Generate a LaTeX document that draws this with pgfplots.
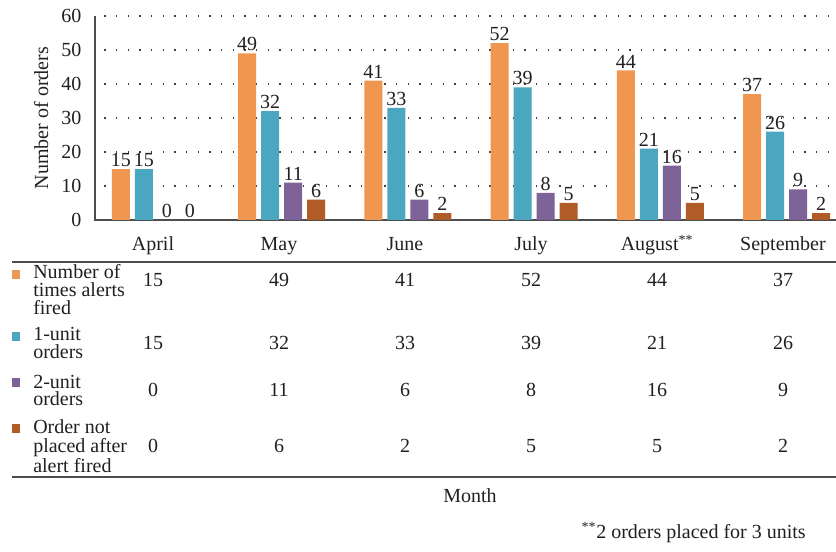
\documentclass[border=0pt]{standalone}
\usepackage{pgfplots}
\pgfplotsset{compat=1.18}
\usepackage{fontspec}
\setmainfont{Liberation Serif}
\definecolor{cOr}{HTML}{EF9650}
\definecolor{cTe}{HTML}{4BA6BF}
\definecolor{cPu}{HTML}{7E6399}
\definecolor{cBr}{HTML}{B15C27}
\definecolor{txt}{HTML}{231F20}
\definecolor{axc}{HTML}{4D4D4D}
\begin{document}
\fontsize{15}{13.5}\selectfont
\begin{tikzpicture}[every node/.append style={text=txt}]
\useasboundingbox (0,0) rectangle (627pt,-414pt);
\begin{axis}[
  at={(71.25pt,-165pt)}, anchor=south west,
  scale only axis, width=555.75pt, height=153pt,
  xmin=-0.479, xmax=5.392, ymin=0, ymax=60,
  ybar=3.75pt, bar width=13.5pt,
  ytick={0,10,...,60}, xtick=\empty,
  major tick length=0pt,
  axis x line*=bottom, axis y line*=left,
  x axis line style={line width=1.6pt, color=axc, shorten <=-0.8pt},
  y axis line style={line width=1.1pt, color=axc},
  ymajorgrids,
  grid style={dash pattern=on 1.1pt off 7.65pt, dash phase=-7pt, line width=1.1pt, color=black!75},
  /pgf/number format/assume math mode=true,
  yticklabel style={text=txt, xshift=-5pt},
  nodes near coords,
  every node near coord/.append style={text=txt, inner sep=1.5pt},
  clip=false,
]
\addplot[fill=cOr, draw=none] coordinates {(0,15) (1,49) (2,41) (3,52) (4,44) (5,37)};
\addplot[fill=cTe, draw=none] coordinates {(0,15) (1,32) (2,33) (3,39) (4,21) (5,26)};
\addplot[fill=cPu, draw=none] coordinates {(0,0) (1,11) (2,6) (3,8) (4,16) (5,9)};
\addplot[fill=cBr, draw=none] coordinates {(0,0) (1,6) (2,2) (3,5) (4,5) (5,2)};
\end{axis}
\begin{scope}[x=0.75pt,y=-0.75pt]
% y label
\node[rotate=90, anchor=base] at (48,118) {Number of orders};
% rules
\draw[line width=1.5pt, color=axc] (12,262) -- (836,262);
\draw[line width=1.5pt, color=axc] (12,477) -- (836,477);
% month labels
\foreach \m [count=\i from 0] in {April,May,June,July,August\textsuperscript{**},September}
  \node[anchor=base, inner sep=0pt] at (153+126*\i,251) {\m};
% legend squares
\fill[cOr] (12,270) rectangle (20,279);
\fill[cTe] (12,332) rectangle (20,341);
\fill[cPu] (12,378) rectangle (20,387);
\fill[cBr] (12,424) rectangle (20,433);
% row labels
\node[anchor=north west, inner sep=0pt, align=left, font=\fontsize{15}{13.3}\selectfont] at (33,264.5) {Number of\\times alerts\\fired};
\node[anchor=north west, inner sep=0pt, align=left, font=\fontsize{15}{13.5}\selectfont] at (33,326.5) {1-unit\\orders};
\node[anchor=north west, inner sep=0pt, align=left, font=\fontsize{15}{12.8}\selectfont] at (33,374.5) {2-unit\\orders};
\node[anchor=north west, inner sep=0pt, align=left, font=\fontsize{15}{14.5}\selectfont] at (33,419.5) {Order not\\placed after\\alert fired};
% table values
\foreach \v [count=\i from 0] in {15,49,41,52,44,37}
  \node[anchor=base, inner sep=0pt] at (153+126*\i,287) {\v};
\foreach \v [count=\i from 0] in {15,32,33,39,21,26}
  \node[anchor=base, inner sep=0pt] at (153+126*\i,350) {\v};
\foreach \v [count=\i from 0] in {0,11,6,8,16,9}
  \node[anchor=base, inner sep=0pt] at (153+126*\i,397) {\v};
\foreach \v [count=\i from 0] in {0,6,2,5,5,2}
  \node[anchor=base, inner sep=0pt] at (153+126*\i,453) {\v};
% month axis title and footnote
\node[anchor=base, inner sep=0pt] at (470,503) {Month};
\node[anchor=base east, inner sep=0pt] at (806,538) {\textsuperscript{**}2 orders placed for 3 units};
\end{scope}
\end{tikzpicture}
\end{document}
